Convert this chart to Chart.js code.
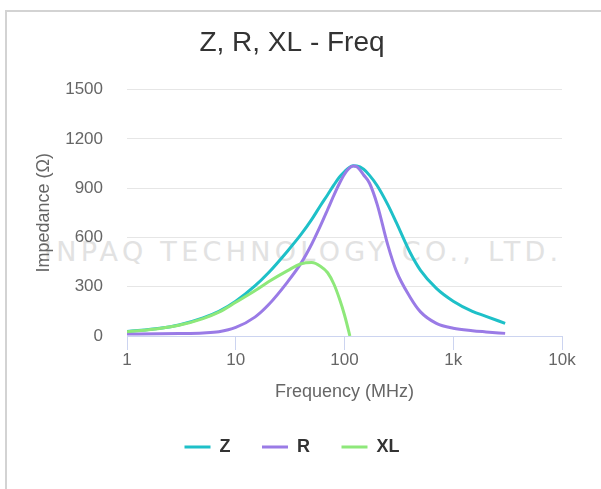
<!DOCTYPE html>
<html><head><meta charset="utf-8">
<script src="https://cdn.jsdelivr.net/npm/chart.js@4"></script>
<style>
html,body{margin:0;padding:0;background:#fff;width:601px;height:489px;overflow:hidden}
#frame{position:absolute;left:5px;top:10px;width:600px;height:480px;border-top:2px solid #d3d3d3;border-left:2px solid #d3d3d3;}
#wm{position:absolute;left:44px;top:236px;font-family:'DejaVu Sans',sans-serif;font-size:27px;letter-spacing:4.3px;color:#e2e2e2;white-space:nowrap;}
#wrap{position:absolute;left:0;top:0;width:601px;height:489px}
</style></head><body>
<div id="frame"></div>
<div id="wm">INPAQ TECHNOLOGY CO., LTD.</div>
<div id="wrap"><canvas id="c" width="601" height="489"></canvas></div>
<script>
// Frequency points (MHz)
const freqMHz = [1, 2, 3, 5, 7, 10, 15, 20, 30, 40, 50, 60, 70, 80, 90, 100, 110, 120, 130, 150, 170, 200, 250, 300, 400, 500, 700, 1000, 1500, 2000, 3000];
// Impedance Z (ohm)
const zValues = [27, 47, 67, 110, 150, 212, 305, 385, 518, 620, 710, 793, 860, 920, 968, 1000, 1025, 1036, 1035, 1015, 978, 915, 800, 690, 510, 400, 290, 212, 150, 120, 77];
// Resistance R (ohm)
const rValues = [12, 13, 15, 19, 26, 52, 115, 190, 330, 445, 560, 670, 770, 858, 930, 985, 1020, 1035, 1030, 980, 930, 800, 555, 395, 238, 147, 77, 47, 32, 25, 16];
// Reactance XL (ohm), only up to its zero crossing
const xlFreqMHz = [1, 2, 3, 5, 7, 10, 15, 20, 30, 40, 50, 60, 70, 80, 90, 100, 110, 112];
const xlValues = [26, 46, 65, 106, 145, 205, 275, 330, 398, 440, 447, 425, 385, 315, 225, 128, 22, 0];
// Axis ticks
const xTickValues = [1, 10, 100, 1000, 10000];
const xTickLabels = ['1', '10', '100', '1k', '10k'];

const pts = (xs, ys) => xs.map((x, i) => ({x: x, y: ys[i]}));

Chart.defaults.font.family = "'Liberation Sans', Arial, sans-serif";

new Chart(document.getElementById('c'), {
  type: 'line',
  data: {
    datasets: [
      {label: 'Z', data: pts(freqMHz, zValues), borderColor: '#1ec0c8', backgroundColor: '#1ec0c8', borderWidth: 3, order: 3},
      {label: 'R', data: pts(freqMHz, rValues), borderColor: '#9a7be6', backgroundColor: '#9a7be6', borderWidth: 3, order: 2},
      {label: 'XL', data: pts(xlFreqMHz, xlValues), borderColor: '#8ee87a', backgroundColor: '#8ee87a', borderWidth: 3, order: 1}
    ]
  },
  options: {
    responsive: false,
    animation: false,
    elements: {
      line: {borderWidth: 3, fill: false, cubicInterpolationMode: 'monotone'},
      point: {radius: 0, hoverRadius: 0}
    },
    layout: {padding: {left: 22, right: 39, top: 10, bottom: 23}},
    plugins: {
      tooltip: {enabled: false},
      title: {
        display: true, text: 'Z, R, XL - Freq', color: '#333',
        font: {size: 28, weight: 'normal'}, padding: {top: 16, bottom: 30}
      },
      legend: {
        position: 'bottom',
        labels: {
          usePointStyle: true, pointStyle: 'line', pointStyleWidth: 26,
          font: {size: 18, weight: 'bold'}, color: '#333', padding: 31.5,
          sort: (a, b) => a.datasetIndex - b.datasetIndex
        }
      }
    },
    scales: {
      x: {
        type: 'logarithmic', min: 1, max: 10000,
        afterBuildTicks: s => { s.ticks = xTickValues.map(v => ({value: v})); },
        afterFit: s => { s.height = 70.5; },
        ticks: {
          font: {size: 17}, color: '#666', padding: 0, autoSkip: false, maxRotation: 0,
          callback: v => xTickLabels[xTickValues.indexOf(v)]
        },
        grid: {drawOnChartArea: false, drawTicks: true, tickLength: 14, color: '#ccd4f0'},
        border: {color: '#ccd4f0'},
        title: {display: true, text: 'Frequency (MHz)', color: '#666', font: {size: 18}, padding: {top: 4, bottom: 4}}
      },
      y: {
        min: 0, max: 1500,
        afterFit: s => { s.width = 105; },
        ticks: {stepSize: 300, font: {size: 17}, color: '#666', padding: 24, callback: v => String(v)},
        grid: {color: '#e6e6e6', drawTicks: false},
        border: {display: false},
        title: {display: true, text: 'Impedance (Ω)', color: '#666', font: {size: 18}, padding: {top: 11, bottom: 4}}
      }
    }
  }
});
</script></body></html>
